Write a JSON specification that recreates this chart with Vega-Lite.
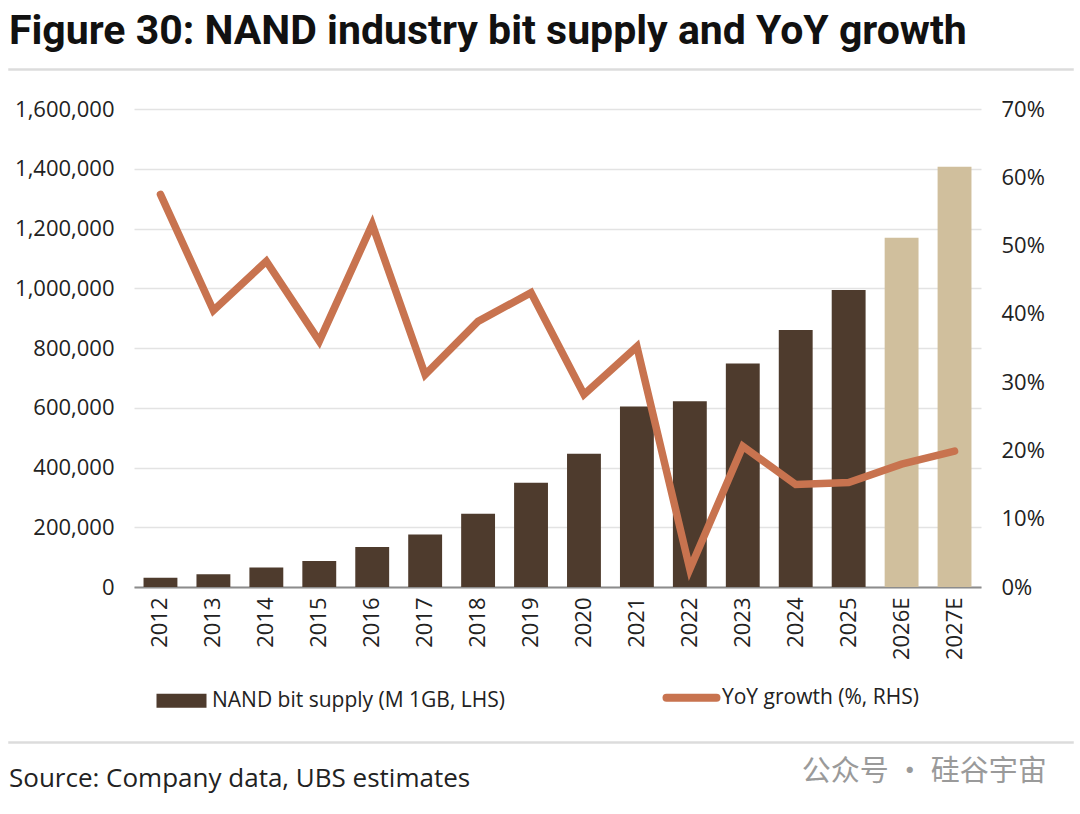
{
  "$schema": "https://vega.github.io/schema/vega-lite/v6.json",
  "background": "white",
  "padding": {"left": 8, "right": 8, "top": 10, "bottom": 12},
  "title": {
    "text": "公众号 · 硅谷宇宙",
    "orient": "bottom",
    "anchor": "end",
    "font": "Noto Sans CJK SC",
    "fontSize": 29,
    "fontWeight": "normal",
    "color": "#9a9a9a",
    "offset": -35,
    "dx": -27
  },
  "spacing": 27,
  "resolve": {"scale": {"color": "independent"}, "legend": {"color": "independent"}},
  "vconcat": [
    {
      "width": 1064,
      "height": 1,
      "view": {"stroke": "#dcdcdc", "strokeWidth": 1.5},
      "title": {
        "text": "Figure 30: NAND industry bit supply and YoY growth",
        "anchor": "start",
        "font": "Roboto",
        "fontSize": 41,
        "fontWeight": "bold",
        "color": "#111111",
        "offset": 16
      },
      "data": {"values": []},
      "mark": "text",
      "encoding": {}
    },
    {
      "width": 1064,
      "height": 478,
      "data": {
        "values": [
          {"year": "2012", "supply": 31000, "yoy": 0.575},
          {"year": "2013", "supply": 42500, "yoy": 0.405},
          {"year": "2014", "supply": 65000, "yoy": 0.477},
          {"year": "2015", "supply": 87000, "yoy": 0.36},
          {"year": "2016", "supply": 134000, "yoy": 0.531},
          {"year": "2017", "supply": 176000, "yoy": 0.311},
          {"year": "2018", "supply": 245000, "yoy": 0.389},
          {"year": "2019", "supply": 349000, "yoy": 0.431},
          {"year": "2020", "supply": 446000, "yoy": 0.282},
          {"year": "2021", "supply": 604000, "yoy": 0.352},
          {"year": "2022", "supply": 622000, "yoy": 0.026},
          {"year": "2023", "supply": 748000, "yoy": 0.206},
          {"year": "2024", "supply": 860000, "yoy": 0.15},
          {"year": "2025", "supply": 994000, "yoy": 0.153},
          {"year": "2026E", "supply": 1169000, "yoy": 0.18},
          {"year": "2027E", "supply": 1407000, "yoy": 0.199}
        ]
      },
      "encoding": {
        "x": {
          "field": "year",
          "type": "ordinal",
          "sort": null,
          "scale": {"range": [125, 972], "paddingInner": 0.36, "paddingOuter": 0.18},
          "axis": {
            "labelAngle": -90,
            "domain": true,
            "domainColor": "#8c8c8c",
            "domainWidth": 2,
            "labelPadding": 10,
            "labelFontSize": 22
          }
        }
      },
      "layer": [
        {
          "mark": {"type": "bar"},
          "encoding": {
            "y": {
              "field": "supply",
              "type": "quantitative",
              "scale": {"domain": [0, 1600000], "nice": false},
              "axis": {
                "orient": "left",
                "offset": -125,
                "values": [0, 200000, 400000, 600000, 800000, 1000000, 1200000, 1400000, 1600000],
                "format": ",.0f",
                "grid": true,
                "gridColor": "#e3e3e3",
                "gridWidth": 1.5,
                "labelPadding": 20,
                "labelFontSize": 22
              }
            },
            "color": {
              "condition": {"test": "indexof(datum.year, 'E') > 0", "value": "#D0BF9D"},
              "datum": "NAND bit supply (M 1GB, LHS)",
              "type": "nominal",
              "scale": {
                "domain": ["NAND bit supply (M 1GB, LHS)", "YoY growth (%, RHS)"],
                "range": ["#4E3B2D", "#C8734F"]
              },
              "legend": {
                "title": null,
                "orient": "none",
                "legendX": 162,
                "legendY": 578,
                "padding": 0,
                "direction": "horizontal",
                "columns": 2,
                "columnPadding": 145,
                "labelFontSize": 21,
                "labelColor": "#222222",
                "labelLimit": 500,
                "labelOffset": 20,
                "symbolSize": 2500,
                "encode": {
                  "symbols": {
                    "update": {
                      "shape": {"signal": "datum.value === 'YoY growth (%, RHS)' ? 'M-1,0H1' : 'M-1,-0.28H1V0.28H-1Z'"},
                      "strokeWidth": {"signal": "datum.value === 'YoY growth (%, RHS)' ? 8 : 0"},
                      "strokeCap": {"value": "round"},
                      "fill": {"signal": "datum.value === 'YoY growth (%, RHS)' ? 'transparent' : '#4E3B2D'"},
                      "stroke": {"signal": "datum.value === 'YoY growth (%, RHS)' ? '#C8734F' : 'transparent'"},
                      "opacity": {"value": 1}
                    }
                  }
                }
              }
            }
          }
        },
        {
          "mark": {"type": "line", "strokeWidth": 7.5, "strokeCap": "round"},
          "encoding": {
            "y": {
              "field": "yoy",
              "type": "quantitative",
              "scale": {"domain": [0, 0.7], "nice": false},
              "axis": {
                "orient": "right",
                "offset": -92,
                "values": [0, 0.1, 0.2, 0.3, 0.4, 0.5, 0.6, 0.7],
                "format": ".0%",
                "labelPadding": 20,
                "labelFontSize": 22
              }
            },
            "color": {"datum": "YoY growth (%, RHS)", "type": "nominal"}
          }
        }
      ],
      "resolve": {"scale": {"y": "independent"}}
    },
    {
      "width": 1064,
      "height": 1,
      "view": {"stroke": "#dcdcdc", "strokeWidth": 1.5},
      "title": {
        "text": "Source: Company data, UBS estimates",
        "orient": "bottom",
        "anchor": "start",
        "font": "Open Sans",
        "fontSize": 26,
        "fontWeight": "normal",
        "color": "#222222",
        "offset": 23
      },
      "data": {"values": []},
      "mark": "text",
      "encoding": {}
    }
  ],
  "config": {
    "font": "Open Sans",
    "view": {"stroke": null},
    "axis": {
      "labelFont": "Open Sans",
      "labelColor": "#222222",
      "labelFontSize": 21,
      "ticks": false,
      "domain": false,
      "grid": false,
      "title": null
    },
    "legend": {"labelFont": "Open Sans"}
  }
}
